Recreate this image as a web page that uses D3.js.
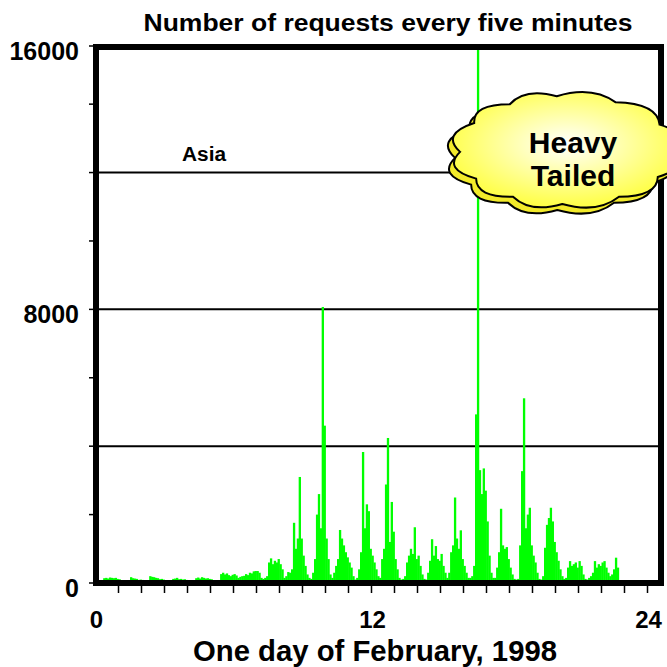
<!DOCTYPE html>
<html>
<head>
<meta charset="utf-8">
<script src="https://cdn.jsdelivr.net/npm/d3@7"></script>
<style>
  body { margin: 0; background: #fff; }
  text { font-family: Arial, "Liberation Sans", sans-serif; font-weight: bold; fill: #000; }
</style>
</head>
<body>
<svg id="chart" width="667" height="667"></svg>
<script>
// requests in each five minute slot, one array per hour of the day
const h00 = [40, 60, 50, 60, 140, 150, 130, 160, 150, 140, 150, 120];
const h01 = [110, 40, 30, 30, 40, 30, 170, 140, 130, 120, 90, 100];
const h02 = [90, 40, 40, 60, 200, 180, 170, 150, 140, 110, 120, 100];
const h03 = [30, 30, 40, 40, 120, 130, 150, 110, 120, 100, 110, 90];
const h04 = [80, 30, 30, 40, 140, 160, 130, 170, 150, 130, 140, 120];
const h05 = [110, 20, 20, 30, 40, 260, 300, 250, 280, 230, 200, 240];
const h06 = [260, 220, 150, 180, 200, 210, 260, 230, 300, 280, 340, 350];
const h07 = [350, 300, 150, 120, 150, 200, 600, 720, 550, 650, 600, 700];
const h08 = [550, 400, 150, 200, 320, 300, 400, 1760, 1000, 1300, 3100, 1300];
const h09 = [800, 500, 250, 150, 120, 300, 700, 2000, 2600, 1600, 8070, 4600];
const h10 = [1300, 700, 250, 150, 300, 500, 700, 1550, 1300, 1100, 900, 750];
const h11 = [600, 450, 200, 100, 150, 400, 900, 3830, 1600, 2300, 2100, 1000];
const h12 = [800, 600, 400, 200, 150, 700, 1000, 2880, 4240, 1200, 2370, 1500];
const h13 = [700, 400, 150, 100, 120, 200, 600, 800, 1000, 850, 1630, 700];
const h14 = [800, 500, 250, 120, 100, 300, 650, 1280, 800, 1080, 700, 650];
const h15 = [850, 500, 300, 150, 300, 900, 1100, 2500, 1300, 1000, 1540, 700];
const h16 = [500, 300, 150, 150, 200, 500, 4930, 15900, 3300, 2600, 3350, 2700];
const h17 = [1800, 800, 300, 150, 150, 450, 900, 2170, 1100, 1000, 1050, 700];
const h18 = [450, 250, 120, 100, 120, 1100, 3270, 5400, 1600, 2000, 2200, 1100];
const h19 = [800, 600, 300, 120, 100, 200, 1030, 1700, 1900, 2200, 1800, 1200];
const h20 = [900, 650, 400, 200, 120, 150, 450, 640, 500, 550, 600, 450];
const h21 = [640, 500, 250, 120, 100, 150, 200, 300, 640, 450, 550, 500];
const h22 = [600, 640, 450, 300, 200, 250, 400, 740, 450];

const requests = [].concat(h00, h01, h02, h03, h04, h05, h06, h07, h08, h09, h10, h11,
  h12, h13, h14, h15, h16, h17, h18, h19, h20, h21, h22);

const yLabelTicks = [0, 8000, 16000];
const yGridLines = [4000, 8000, 12000];
const yMinorTicks = [0, 2000, 4000, 6000, 8000, 10000, 12000, 14000, 16000];
const xLabelTicks = [0, 12, 24];
const xMinorTicks = [1, 2, 3, 4, 5, 6, 7, 8, 9, 10, 11, 12, 13, 14, 15, 16, 17, 18, 19, 20, 21, 22, 23, 24];

const svg = d3.select('#chart');

const frame = { left: 96, right: 661, top: 47, bottom: 583 };

const x = d3.scaleLinear().domain([0, 24]).range([95.5, 647.5]);
const y = d3.scaleLinear().domain([0, 15700]).range([583, 46]).clamp(true);

const slot = 5 / 60;

const defs = svg.append('defs');
defs.append('clipPath').attr('id', 'plotClip')
  .append('rect')
  .attr('x', frame.left).attr('y', frame.top)
  .attr('width', frame.right - frame.left).attr('height', frame.bottom - frame.top);

const grad = defs.append('radialGradient').attr('id', 'cloudFill')
  .attr('cx', '0.5').attr('cy', '0.45').attr('r', '0.6');
grad.append('stop').attr('offset', '0%').attr('stop-color', '#ffffff');
grad.append('stop').attr('offset', '100%').attr('stop-color', '#ffff33');

// grid lines
svg.append('g')
  .selectAll('line')
  .data(yGridLines)
  .enter()
  .append('line')
  .attr('x1', frame.left).attr('x2', frame.right)
  .attr('y1', d => y(d)).attr('y2', d => y(d))
  .attr('stroke', '#000')
  .attr('stroke-width', 2);

// the request bars
svg.append('g')
  .attr('clip-path', 'url(#plotClip)')
  .selectAll('rect')
  .data(requests)
  .enter()
  .append('rect')
  .attr('x', (d, i) => x(i * slot))
  .attr('width', x(slot) - x(0) + 0.4)
  .attr('y', d => y(d))
  .attr('height', d => y(0) - y(d))
  .attr('fill', '#00ff00');

// minor ticks on the left
svg.append('g')
  .selectAll('line')
  .data(yMinorTicks)
  .enter()
  .append('line')
  .attr('x1', frame.left - 7).attr('x2', frame.left)
  .attr('y1', d => y(d)).attr('y2', d => y(d))
  .attr('stroke', '#000')
  .attr('stroke-width', 1.5);

// hour ticks under the axis
svg.append('g')
  .selectAll('line')
  .data(xMinorTicks)
  .enter()
  .append('line')
  .attr('x1', d => x(d)).attr('x2', d => x(d))
  .attr('y1', frame.bottom).attr('y2', frame.bottom + 10)
  .attr('stroke', '#000')
  .attr('stroke-width', 1.5);

// frame
svg.append('rect')
  .attr('x', frame.left).attr('y', frame.top)
  .attr('width', frame.right - frame.left).attr('height', frame.bottom - frame.top)
  .attr('fill', 'none')
  .attr('stroke', '#000')
  .attr('stroke-width', 6);

// tick labels
svg.append('g')
  .selectAll('text')
  .data(yLabelTicks)
  .enter()
  .append('text')
  .attr('x', 79)
  .attr('y', d => y(d) + 14)
  .attr('text-anchor', 'end')
  .style('font-size', '25px')
  .text(d => d);

svg.append('g')
  .selectAll('text')
  .data(xLabelTicks)
  .enter()
  .append('text')
  .attr('x', d => x(d) + 1)
  .attr('y', 628)
  .attr('text-anchor', 'middle')
  .style('font-size', '24px')
  .text(d => d);

svg.append('text')
  .attr('x', 388).attr('y', 31)
  .attr('text-anchor', 'middle')
  .attr('textLength', 489)
  .attr('lengthAdjust', 'spacingAndGlyphs')
  .style('font-size', '23px')
  .text('Number of requests every five minutes');

svg.append('text')
  .attr('x', 375).attr('y', 661)
  .attr('text-anchor', 'middle')
  .attr('textLength', 364)
  .attr('lengthAdjust', 'spacingAndGlyphs')
  .style('font-size', '29px')
  .text('One day of February, 1998');

svg.append('text')
  .attr('x', 182).attr('y', 161)
  .attr('textLength', 44)
  .attr('lengthAdjust', 'spacingAndGlyphs')
  .style('font-size', '20px')
  .text('Asia');

// cloud callout
const cloudAngles = [0, 28, 62, 95, 122, 150, 182, 212, 240, 268, 300, 330, 360];

function cloudPath(cx, cy, rx, ry, bulge) {
  const p = d3.path();
  const pt = (a, k) => {
    const r = a * Math.PI / 180;
    return [cx + Math.cos(r) * rx * k, cy - Math.sin(r) * ry * k];
  };
  const start = pt(cloudAngles[0], 1);
  p.moveTo(start[0], start[1]);
  for (let i = 1; i < cloudAngles.length; i++) {
    const mid = (cloudAngles[i - 1] + cloudAngles[i]) / 2;
    const c = pt(mid, bulge);
    const e = pt(cloudAngles[i], 1);
    p.quadraticCurveTo(c[0], c[1], e[0], e[1]);
  }
  p.closePath();
  return p.toString();
}

const cloud = svg.append('g');
cloud.append('path')
  .attr('d', cloudPath(561, 156, 106, 54, 1.22))
  .attr('fill', '#f2ea2a')
  .attr('stroke', '#000')
  .attr('stroke-width', 2);
cloud.append('path')
  .attr('d', cloudPath(566, 150, 106, 54, 1.22))
  .attr('fill', 'url(#cloudFill)')
  .attr('stroke', '#000')
  .attr('stroke-width', 2);

cloud.append('text')
  .attr('x', 573).attr('y', 153)
  .attr('text-anchor', 'middle')
  .style('font-size', '30px')
  .text('Heavy');
cloud.append('text')
  .attr('x', 573).attr('y', 186)
  .attr('text-anchor', 'middle')
  .style('font-size', '30px')
  .text('Tailed');
</script>
</body>
</html>
